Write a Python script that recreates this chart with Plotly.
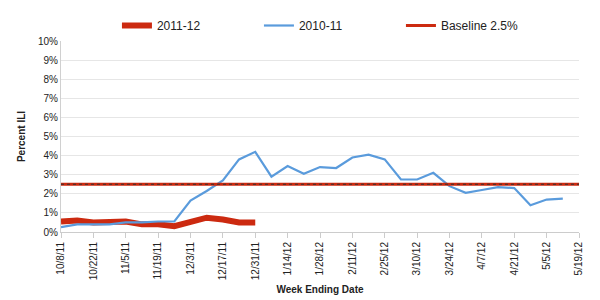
import plotly.graph_objects as go
import pandas as pd

# Week-ending dates (2011-12 season axis)
weeks = pd.date_range("2011-10-08", periods=32, freq="7D")

# Percent ILI values
ili_2011_12 = [0.55, 0.6, 0.5, 0.5, 0.55, 0.4, 0.4, 0.3, 0.55, 0.75, 0.65, 0.5, 0.5]
ili_2010_11 = [0.25, 0.4, 0.4, 0.4, 0.5, 0.5, 0.55, 0.55, 1.65, 2.15, 2.7, 3.8,
               4.2, 2.9, 3.45, 3.05, 3.4, 3.35, 3.9, 4.05, 3.8, 2.75, 2.75, 3.1,
               2.4, 2.05, 2.2, 2.35, 2.3, 1.4, 1.7, 1.75]
baseline_value = 2.5
baseline_dates = ["2011-10-08", "2012-05-19"]

tick_dates = pd.date_range("2011-10-08", "2012-05-19", freq="14D")
tick_labels = [f"{d.month}/{d.day}/{d.strftime('%y')}" for d in tick_dates]
y_ticks = list(range(0, 11))
y_labels = [f"{v}%" for v in y_ticks]

font = "Liberation Sans, Arial, sans-serif"
red = "#cc2a10"
blue = "#5a9bdc"

fig = go.Figure()
fig.add_trace(go.Scatter(x=weeks[:len(ili_2011_12)], y=ili_2011_12, mode="lines",
                         name="2011-12", line=dict(color=red, width=6)))
fig.add_trace(go.Scatter(x=weeks[:len(ili_2010_11)], y=ili_2010_11, mode="lines",
                         name="2010-11", line=dict(color=blue, width=2.2)))
fig.add_trace(go.Scatter(x=baseline_dates, y=[baseline_value] * 2, mode="lines",
                         name="Baseline 2.5%", line=dict(color=red, width=3)))
fig.add_trace(go.Scatter(x=baseline_dates, y=[baseline_value] * 2, mode="lines",
                         showlegend=False, hoverinfo="skip",
                         line=dict(color="#333333", width=1, dash="dot")))

fig.update_layout(
    width=600, height=300,
    margin=dict(l=61, r=21, t=40, b=68),
    paper_bgcolor="white", plot_bgcolor="white",
    font=dict(family=font, size=10, color="#222222"),
    showlegend=True,
    legend=dict(orientation="h", x=0.108, y=1.0, xanchor="left", yanchor="bottom",
                entrywidth=97, entrywidthmode="pixels",
                font=dict(size=12, color="#222222"), itemwidth=30,
                bgcolor="rgba(0,0,0,0)"),
    xaxis=dict(
        range=[tick_dates[0], tick_dates[-1]],
        tickmode="array", tickvals=tick_dates, ticktext=tick_labels,
        tickangle=-90, tickfont=dict(size=10, color="#222222"),
        showgrid=False, zeroline=False, automargin=False,
        showline=True, linecolor="#cccccc", linewidth=1,
        ticks="outside", ticklen=5, tickcolor="#cccccc",
        title=dict(text="<b>Week Ending Date</b>", font=dict(size=10), standoff=6),
    ),
    yaxis=dict(
        range=[0, 10], tickmode="array", tickvals=y_ticks, ticktext=y_labels,
        tickfont=dict(size=10, color="#222222"),
        showgrid=True, gridcolor="#e6e6e6", gridwidth=1, automargin=False,
        zeroline=False, showline=True, linecolor="#d0d0d0", linewidth=1,
        ticks="", title=dict(text="<b>Percent ILI</b>", font=dict(size=10), standoff=10),
    ),
)

fig.write_html("out.html")
